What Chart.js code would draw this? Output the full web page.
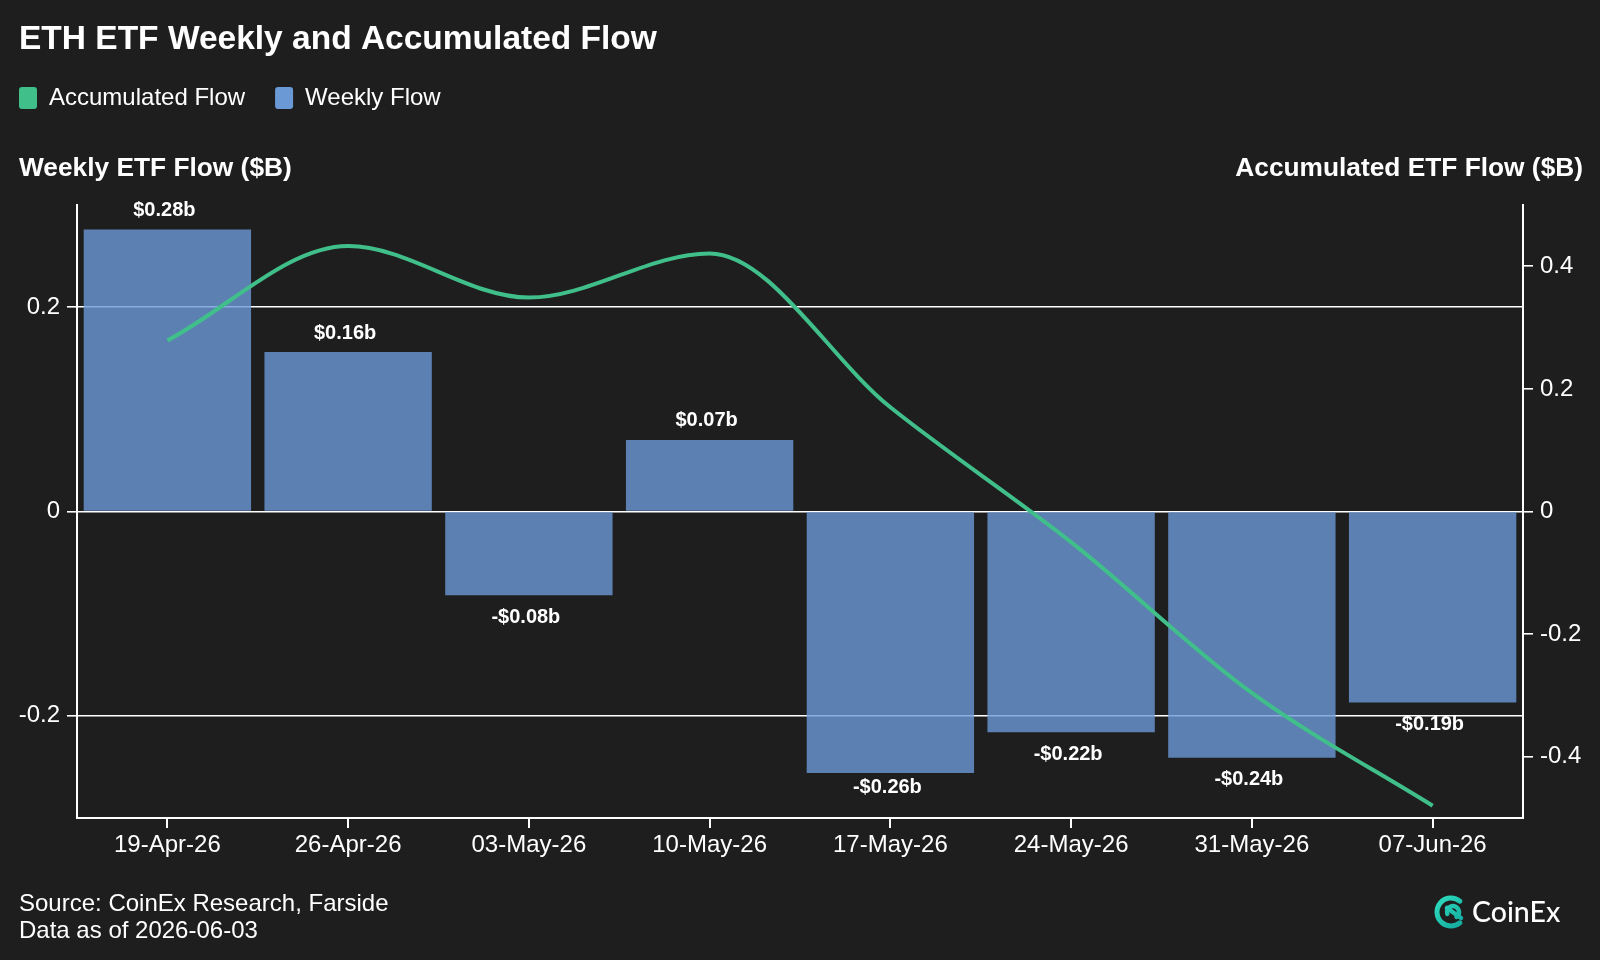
<!DOCTYPE html>
<html><head><meta charset="utf-8">
<script src="https://cdn.jsdelivr.net/npm/chart.js@4.4.0/dist/chart.umd.min.js"></script>
<style>html,body{margin:0;padding:0;background:#1e1e1e;overflow:hidden}#wrap{width:1600px;height:960px;position:relative}</style>
</head><body><div id="wrap"><canvas id="c" width="1600" height="960"></canvas></div>
<script>
const categories = ['19-Apr-26','26-Apr-26','03-May-26','10-May-26','17-May-26','24-May-26','31-May-26','07-Jun-26'];
const weeklyFlow = [0.276, 0.156, -0.082, 0.070, -0.256, -0.216, -0.241, -0.187];
const accumulatedFlow = [0.279, 0.433, 0.349, 0.421, 0.170, -0.050, -0.296, -0.480];
const leftTicks = [-0.2, 0, 0.2];
const rightTicks = [-0.4, -0.2, 0, 0.2, 0.4];
const titleText = 'ETH ETF Weekly and Accumulated Flow';
const leftAxisTitle = 'Weekly ETF Flow ($B)';
const rightAxisTitle = 'Accumulated ETF Flow ($B)';
const sourceLines = ['Source: CoinEx Research, Farside', 'Data as of 2026-06-03'];
const seriesNames = ['Accumulated Flow', 'Weekly Flow'];

const FONT = "'Liberation Sans', Arial, Helvetica, sans-serif";
const GREEN = 'rgb(64,191,139)';
const BLUE_SOLID = 'rgb(106,153,214)';
const BLUE_BAR = 'rgba(106,153,214,0.8)';
const WHITE = '#ffffff';

Chart.defaults.font.family = FONT;
Chart.defaults.color = WHITE;

function fmtTick(v){ const r = Math.round(v*10)/10; return r === 0 ? '0' : String(r); }

const decor = {
  id: 'decor',
  beforeDraw(chart){
    const ctx = chart.ctx;
    ctx.save();
    ctx.fillStyle = '#1e1e1e';
    ctx.fillRect(0,0,chart.width,chart.height);
    ctx.restore();
  },
  afterDatasetsDraw(chart){
    const ctx = chart.ctx;
    const area = chart.chartArea;
    const ds = chart.data.datasets[1];
    const meta = chart.getDatasetMeta(1);
    ctx.save();
    ctx.font = 'bold 20px ' + FONT;
    ctx.fillStyle = WHITE;
    ctx.textAlign = 'center';
    ctx.textBaseline = 'middle';
    meta.data.forEach((el, i) => {
      const v = ds.data[i];
      const t = (v < 0 ? '-' : '') + '$' + Math.abs(v).toFixed(2) + 'b';
      let y = v >= 0 ? el.y - 19 : el.y + 22;
      if (y > area.bottom - 31) y = area.bottom - 31;
      ctx.fillText(t, el.x - 3, y);
    });
    ctx.restore();
  },
  afterDraw(chart){
    const ctx = chart.ctx;
    ctx.save();
    ctx.fillStyle = WHITE;
    ctx.textBaseline = 'middle';
    // title
    ctx.font = 'bold 33.5px ' + FONT;
    ctx.textAlign = 'left';
    ctx.fillText(titleText, 19, 40);
    // legend
    ctx.font = '24px ' + FONT;
    let x = 19;
    const colors = [GREEN, BLUE_SOLID];
    chart.data.datasets.forEach((d, i) => {
      ctx.fillStyle = colors[i];
      ctx.beginPath();
      ctx.roundRect(x, 87, 18, 22, 3);
      ctx.fill();
      ctx.fillStyle = WHITE;
      ctx.fillText(d.label, x + 30, 98);
      x += 30 + ctx.measureText(d.label).width + 30;
    });
    // axis titles
    ctx.font = 'bold 26.3px ' + FONT;
    ctx.textAlign = 'left';
    ctx.fillText(leftAxisTitle, 19, 169);
    ctx.textAlign = 'right';
    ctx.fillText(rightAxisTitle, 1583, 169);
    // source
    ctx.font = '24px ' + FONT;
    ctx.textAlign = 'left';
    ctx.fillText(sourceLines[0], 19, 904);
    ctx.fillText(sourceLines[1], 19, 931);
    // logo
    const cx = 1451, cy = 912;
    const g = ctx.createLinearGradient(cx-16, cy-16, cx+16, cy+16);
    g.addColorStop(0, '#2fe0c0');
    g.addColorStop(1, '#10a39a');
    ctx.strokeStyle = g;
    ctx.lineCap = 'round';
    ctx.lineWidth = 5;
    ctx.beginPath();
    ctx.arc(cx, cy, 14, -0.28*Math.PI, 0.28*Math.PI, true);
    ctx.stroke();
    ctx.lineWidth = 4.5;
    ctx.beginPath();
    ctx.arc(cx+2, cy, 6, 0.9*Math.PI, 0.3*Math.PI, false);
    ctx.stroke();
    ctx.beginPath();
    ctx.moveTo(cx-4, cy-4);
    ctx.lineTo(cx+10, cy+6);
    ctx.stroke();
    ctx.fillStyle = WHITE;
    ctx.textAlign = 'left';
    ctx.font = '500 28.5px Lato, ' + FONT;
    ctx.fillText('CoinEx', 1472, 913);
    ctx.restore();
  }
};

new Chart(document.getElementById('c'), {
  data: {
    labels: categories,
    datasets: [
      {
        type: 'line',
        label: seriesNames[0],
        data: accumulatedFlow,
        yAxisID: 'y1',
        borderColor: GREEN,
        backgroundColor: GREEN,
        borderWidth: 4,
        pointRadius: 0,
        cubicInterpolationMode: 'monotone',
        order: 0
      },
      {
        type: 'bar',
        label: seriesNames[1],
        data: weeklyFlow,
        yAxisID: 'y',
        backgroundColor: BLUE_BAR,
        borderWidth: 0,
        barPercentage: 0.926,
        categoryPercentage: 1.0,
        order: 1
      }
    ]
  },
  options: {
    responsive: false,
    animation: false,
    devicePixelRatio: 1,
    layout: { padding: { top: 205, left: 0, right: 0, bottom: 0 } },
    plugins: { legend: { display: false }, title: { display: false }, tooltip: { enabled: false } },
    scales: {
      x: {
        offset: true,
        grid: { display: true, drawOnChartArea: false, drawTicks: true, tickLength: 10, color: WHITE, lineWidth: 2, offset: false },
        border: { display: true, color: WHITE, width: 2 },
        ticks: { color: WHITE, font: { size: 24 }, padding: 3, maxRotation: 0, autoSkip: false },
        afterFit(s){ s.height = 142; }
      },
      y: {
        position: 'left',
        min: -0.3, max: 0.3,
        afterBuildTicks(axis){ axis.ticks = leftTicks.map(v => ({ value: v })); },
        grid: { display: true, drawOnChartArea: true, drawTicks: true, tickLength: 10, color: WHITE, lineWidth: 1.6 },
        border: { display: true, color: WHITE, width: 2 },
        ticks: { color: WHITE, font: { size: 24 }, padding: 7, callback: fmtTick },
        afterFit(s){ s.width = 77; }
      },
      y1: {
        position: 'right',
        min: -0.5, max: 0.5,
        afterBuildTicks(axis){ axis.ticks = rightTicks.map(v => ({ value: v })); },
        grid: { display: true, drawOnChartArea: false, drawTicks: true, tickLength: 10, color: WHITE, lineWidth: 1.6 },
        border: { display: true, color: WHITE, width: 2 },
        ticks: { color: WHITE, font: { size: 24 }, padding: 7, callback: fmtTick },
        afterFit(s){ s.width = 77; }
      }
    }
  },
  plugins: [decor]
});
</script>
</body></html>
